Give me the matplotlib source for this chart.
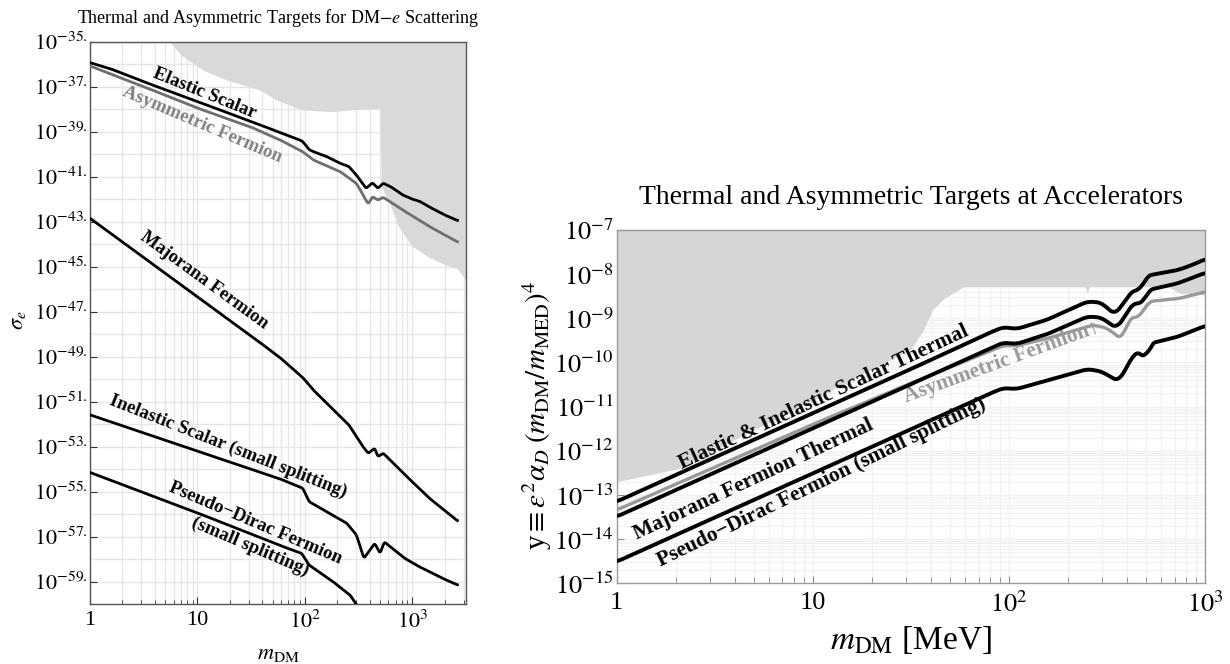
import numpy as np
import matplotlib
matplotlib.use('Agg')
import matplotlib.pyplot as plt
from matplotlib.ticker import FixedLocator, NullFormatter, LogLocator

plt.rcParams['font.family'] = ['Liberation Serif', 'DejaVu Serif']
plt.rcParams['mathtext.fontset'] = 'stix'

# ---- left panel: DM-e scattering targets (log10 values) ----
es_logm = [0, 0.2, 0.5, 1.0, 1.5, 1.77, 1.97, 2.0, 2.04, 2.08, 2.2, 2.33, 2.41, 2.48,
           2.57, 2.63, 2.68, 2.73, 2.8, 2.91, 3.0, 3.07, 3.16, 3.3, 3.42]
es_logs = [-35.93, -36.22, -36.78, -37.66, -38.55, -39.04, -39.40, -39.55, -39.8, -39.89,
           -40.1, -40.41, -40.55, -40.93, -41.52, -41.27, -41.52, -41.29, -41.45, -41.81,
           -42.0, -42.1, -42.35, -42.7, -42.95]

af_logm = [0, 0.5, 1.0, 1.5, 1.77, 1.98, 2.08, 2.33, 2.48, 2.59, 2.63, 2.68, 2.73, 2.91, 3.16, 3.42]
af_logs = [-36.08, -37.0, -37.95, -38.8, -39.37, -39.89, -40.26, -40.78, -41.3, -42.22,
           -41.89, -42.04, -41.92, -42.48, -43.22, -43.9]

mj_logm = [0, 1.0, 1.55, 1.77, 1.98, 2.08, 2.41, 2.54, 2.59, 2.65, 2.68, 2.73, 2.95, 3.16, 3.42]
mj_logs = [-42.85, -46.34, -48.26, -49.05, -49.93, -50.49, -52.04, -53.0, -53.3, -53.07,
           -53.45, -53.3, -54.34, -55.3, -56.3]

is_logm = [0, 1.0, 1.77, 1.98, 2.04, 2.39, 2.48, 2.55, 2.65, 2.70, 2.74, 2.93, 3.06, 3.16, 3.3, 3.42]
is_logs = [-51.59, -53.2, -54.44, -54.85, -55.45, -56.41, -56.93, -57.97, -57.3, -57.75,
           -57.24, -57.97, -58.33, -58.56, -58.9, -59.15]

pd_logm = [0, 1.0, 1.77, 1.97, 2.04, 2.26, 2.42, 2.52]
pd_logs = [-54.15, -55.95, -57.4, -57.75, -58.27, -59.0, -59.6, -60.3]

excl_logm = [0.74, 0.85, 0.96, 1.05, 1.27, 1.58, 1.74, 1.98, 2.26, 2.5, 2.70, 2.71, 2.79,
             2.87, 3.0, 3.16, 3.3, 3.42, 3.5]
excl_logs = [-35.0, -35.6, -35.96, -36.26, -36.7, -37.15, -37.6, -38.04, -38.11, -38.0,
             -37.96, -41.44, -42.2, -43.2, -44.1, -44.6, -44.9, -45.1, -45.6]

left_yticks = list(range(-35, -60, -2))
left_yticklabels = [r'$10^{%d.}$' % e for e in left_yticks]

# ---- right panel: accelerator targets ----
sc_logm = [0, 1.0, 1.5, 1.90, 1.97, 2.04, 2.19, 2.40, 2.47, 2.54, 2.64, 2.67, 2.70, 2.78, 2.86, 2.93, 3.0]
sc_logy = [-13.15, -11.15, -10.15, -9.33, -9.2, -9.24, -9.04, -8.62, -8.64, -8.92, -8.32,
           -8.40, -8.04, -7.97, -7.91, -7.8, -7.66]

mt_logm = [0, 1.0, 1.5, 1.90, 1.97, 2.04, 2.2, 2.40, 2.47, 2.55, 2.64, 2.68, 2.71, 2.86, 3.0]
mt_logy = [-13.49, -11.49, -10.49, -9.69, -9.55, -9.58, -9.35, -8.96, -8.98, -9.23, -8.62,
           -8.70, -8.36, -8.21, -7.97]

as_logm = [0, 1.0, 1.5, 1.97, 2.04, 2.2, 2.43, 2.50, 2.58, 2.61, 2.67, 2.71, 2.87, 3.0]
as_logy = [-13.34, -11.4, -10.47, -9.62, -9.62, -9.45, -9.15, -9.22, -9.49, -9.0, -8.96,
           -8.62, -8.55, -8.40]

ps_logm = [0, 1.0, 1.5, 1.90, 1.97, 2.04, 2.2, 2.40, 2.47, 2.56, 2.64, 2.67, 2.70, 2.72, 2.86, 3.0]
ps_logy = [-14.51, -12.51, -11.51, -10.71, -10.58, -10.60, -10.40, -10.15, -10.2, -10.43,
           -9.79, -9.75, -9.98, -9.57, -9.42, -9.17]

acc_logm = [0, 0.32, 0.6, 1.0, 1.3, 1.5, 1.56, 1.61, 1.67, 1.77, 2.39, 2.40, 2.41, 2.81, 2.87, 3.0]
acc_logy = [-12.7, -12.4, -11.75, -10.85, -10.15, -9.7, -9.3, -8.81, -8.55, -8.28, -8.28,
            -8.45, -8.28, -8.28, -8.43, -8.47]

right_yticks = list(range(-7, -16, -1))


def p10(a):
    return 10.0 ** np.array(a)


def smooth(lx, ly, w):
    # resample the read-off points on a fine grid and round off the corners
    fx = np.linspace(lx[0], lx[-1], 700)
    fy = np.interp(fx, lx, ly)
    if w > 1:
        pad = np.pad(fy, w, mode='edge')
        fy = np.convolve(pad, np.ones(w) / w, mode='same')[w:-w]
    return 10.0 ** fx, 10.0 ** fy


fig = plt.figure(figsize=(12.3, 6.64), dpi=100)

# ================= left =================
ax1 = fig.add_axes([90 / 1230, 1 - 604 / 664, 376 / 1230, 562.3 / 664])
ax1.set_xscale('log')
ax1.set_yscale('log')
ax1.set_xlim(1, 10 ** 3.5)
ax1.set_ylim(1e-60, 1e-35)
ax1.set_axisbelow(True)

ax1.fill_between(p10(excl_logm), p10(excl_logs), 1e-35, color='#d9d9d9', lw=0, zorder=1)
ax1.plot(*smooth(af_logm, af_logs, 5), color='#6e6e6e', lw=2.0, zorder=3)
for lx, ly in [(es_logm, es_logs), (mj_logm, mj_logs), (is_logm, is_logs), (pd_logm, pd_logs)]:
    ax1.plot(*smooth(lx, ly, 5), color='black', lw=2.0, zorder=4)

ax1.xaxis.set_major_locator(FixedLocator([1, 10, 100, 1000]))
ax1.set_xticklabels(['1', '10', r'$10^2$', r'$10^3$'])
ax1.xaxis.set_minor_locator(LogLocator(base=10, subs=np.arange(2, 10), numticks=20))
ax1.xaxis.set_minor_formatter(NullFormatter())
ax1.yaxis.set_major_locator(FixedLocator(p10(left_yticks)))
ax1.set_yticklabels(left_yticklabels)
ax1.yaxis.set_minor_locator(FixedLocator(p10(range(-36, -60, -2))))
ax1.yaxis.set_minor_formatter(NullFormatter())
ax1.tick_params(which='both', direction='in', top=False, right=False, labelsize=16,
                color='#333333')
ax1.tick_params(which='major', length=5)
ax1.tick_params(axis='x', which='minor', length=3)
ax1.tick_params(axis='y', which='minor', length=0)
ax1.tick_params(axis='x', pad=5)
ax1.tick_params(axis='y', pad=2)
ax1.grid(True, which='both', color='#e6e6e6', lw=1.0)
for s in ax1.spines.values():
    s.set_color('#555555')
    s.set_linewidth(1.0)

lbl = dict(fontsize=13.5, fontweight='bold', ha='center', va='center', rotation_mode='anchor')
ax1.text(11.7, 10 ** -37.28, 'Elastic Scalar', rotation=-22, color='black', **lbl)
ax1.text(11.2, 10 ** -38.70, 'Asymmetric Fermion', rotation=-23, color='#808080', **lbl)
ax1.text(11.5, 10 ** -45.6, 'Majorana Fermion', rotation=-36, color='black', **lbl)
ax1.text(19.2, 10 ** -53.0, 'Inelastic Scalar (small splitting)', rotation=-21.5, color='black', **lbl)
ax1.text(35, 10 ** -56.4, 'Pseudo\u2212Dirac Fermion', rotation=-23, color='black', **lbl)
ax1.text(31, 10 ** -57.43, '(small splitting)', rotation=-23, color='black', **lbl)

fig.text(278 / 1230, 1 - 18 / 664, r'Thermal and Asymmetric Targets for DM$-e$ Scattering',
         ha='center', va='center', fontsize=13)
fig.text(18 / 1230, 1 - 320 / 664, r'$\sigma_e$', ha='center', va='center', fontsize=16,
         rotation=90)
fig.text(278 / 1230, 1 - 655 / 664, r'$m_{\rm DM}$', ha='center', va='center', fontsize=16)

# ================= right =================
ax2 = fig.add_axes([616.7 / 1230, 1 - 583.3 / 664, 588.3 / 1230, 353.3 / 664])
ax2.set_xscale('log')
ax2.set_yscale('log')
ax2.set_xlim(1, 1000)
ax2.set_ylim(1e-15, 1e-7)
ax2.set_axisbelow(True)

ax2.fill_between(p10(acc_logm), p10(acc_logy), 1e-7, color='#d6d6d6', lw=0, zorder=1)
ax2.plot(*smooth(as_logm, as_logy, 13), color='#999999', lw=2.4, zorder=3)
for lx, ly in [(sc_logm, sc_logy), (mt_logm, mt_logy), (ps_logm, ps_logy)]:
    ax2.plot(*smooth(lx, ly, 13), color='black', lw=2.8, zorder=4)

ax2.xaxis.set_major_locator(FixedLocator([1, 10, 100, 1000]))
ax2.set_xticklabels(['1', '10', r'$10^2$', r'$10^3$'])
ax2.xaxis.set_minor_locator(LogLocator(base=10, subs=np.arange(2, 10), numticks=20))
ax2.xaxis.set_minor_formatter(NullFormatter())
ax2.yaxis.set_major_locator(FixedLocator(p10(right_yticks)))
ax2.set_yticklabels([r'$10^{%d}$' % e for e in right_yticks])
ax2.yaxis.set_minor_locator(LogLocator(base=10, subs=np.arange(2, 10), numticks=20))
ax2.yaxis.set_minor_formatter(NullFormatter())
ax2.tick_params(which='both', direction='in', top=False, right=False, labelsize=19,
                color='#888888')
ax2.tick_params(which='major', length=5)
ax2.tick_params(axis='x', which='minor', length=4)
ax2.tick_params(axis='y', which='minor', length=0)
ax2.tick_params(axis='x', pad=6)
ax2.tick_params(axis='y', pad=2)
ax2.grid(True, which='both', color='#f1f1f1', lw=0.9)
for s in ax2.spines.values():
    s.set_color('#9a9a9a')
    s.set_linewidth(1.0)

lbl2 = dict(fontsize=15.5, fontweight='bold', ha='center', va='center', rotation_mode='anchor')
ax2.text(11.3, 10 ** -10.78, 'Elastic & Inelastic Scalar Thermal', rotation=25, color='black', **lbl2)
ax2.text(5.0, 10 ** -12.66, 'Majorana Fermion Thermal', rotation=25, color='black', **lbl2)
ax2.text(11.1, 10 ** -12.72, 'Pseudo\u2212Dirac Fermion (small splitting)', rotation=26,
         color='black', **lbl2)
ax2.text(92, 10 ** -10.0, 'Asymmetric Fermion\u2191', rotation=20, color='#9a9a9a', **lbl2)

fig.text(911 / 1230, 1 - 197 / 664, 'Thermal and Asymmetric Targets at Accelerators',
         ha='center', va='center', fontsize=20)
fig.text(911 / 1230, 1 - 640 / 664, r'$m_{\rm DM}$ [MeV]', ha='center', va='center', fontsize=24)
fig.text(537 / 1230, 1 - 415 / 664,
         r'y$\equiv\epsilon^2\alpha_D\;(m_{\rm DM}/m_{\rm MED})^4$',
         ha='center', va='center', fontsize=21, rotation=90)

fig.savefig('out.png', dpi=100)
